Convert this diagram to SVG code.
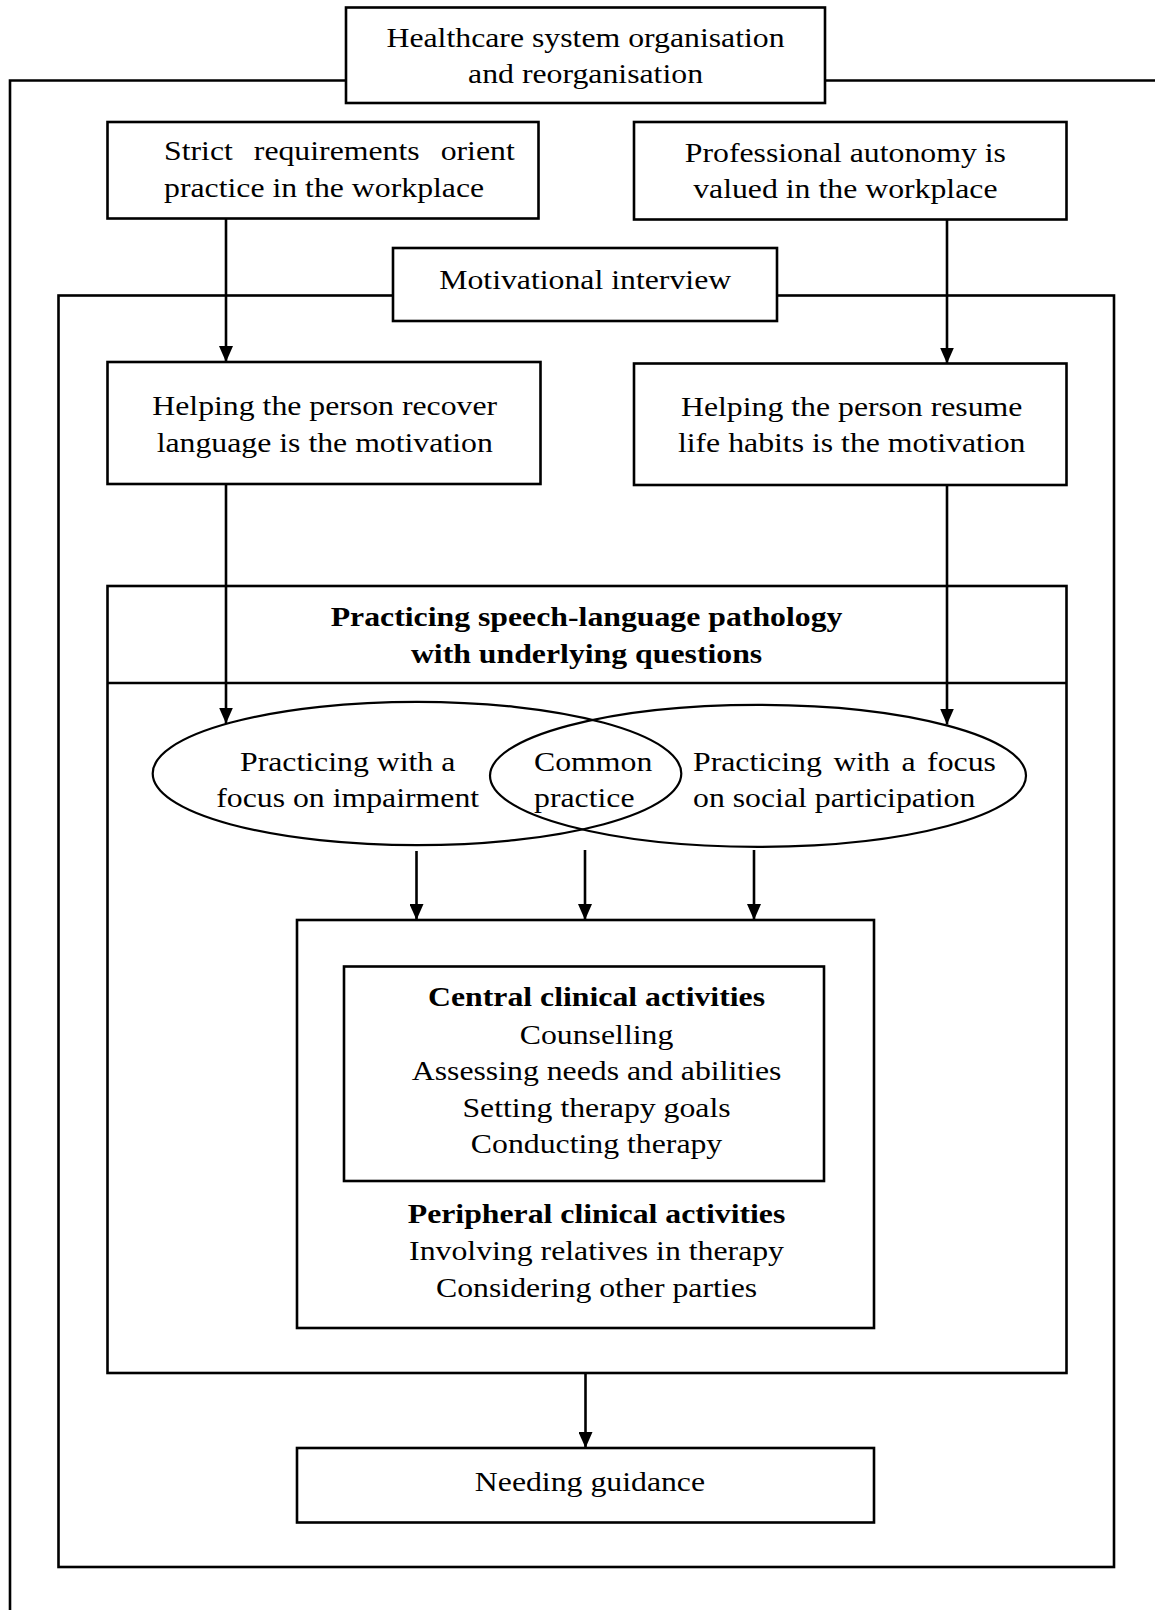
<svg xmlns="http://www.w3.org/2000/svg" width="1155" height="1610" viewBox="0 0 1155 1610">
<style>
.box{fill:#fff;stroke:#000;stroke-width:2.6}
.frame{fill:none;stroke:#000;stroke-width:2.6}
.ell{fill:none;stroke:#000;stroke-width:2.2}
.con{fill:none;stroke:#000;stroke-width:2.6}
text{font-family:"Liberation Serif","Times New Roman",serif;font-size:28px;fill:#000}
.c{text-anchor:middle}
.b{font-weight:bold}
</style>
<defs>
<marker id="ah" markerUnits="userSpaceOnUse" markerWidth="16" markerHeight="14" refX="16" refY="7" orient="auto">
<path d="M0,0 L16,7 L0,14 z" fill="#000"/>
</marker>
</defs>
<rect width="1155" height="1610" fill="#fff"/>

<g id="outer-frame">
<polyline class="frame" points="10,1610 10,80.5 1155,80.5"/>
</g>
<g id="motivational-frame">
<rect class="frame" x="58.5" y="295.5" width="1055.5" height="1271.5"/>
</g>

<g id="healthcare">
<rect class="box" x="346" y="7.5" width="479" height="95.5"/>
<text class="c" transform="scale(1.135,1)" x="515.9" y="47">Healthcare system organisation</text>
<text class="c" transform="scale(1.135,1)" x="515.9" y="83">and reorganisation</text>
</g>

<g id="strict">
<rect class="box" x="107.5" y="122" width="431" height="96.5"/>
<text transform="scale(1.135,1)" x="144.5" y="160.5" word-spacing="11.5">Strict requirements orient</text>
<text transform="scale(1.135,1)" x="144.5" y="197">practice in the workplace</text>
</g>

<g id="autonomy">
<rect class="box" x="634" y="122" width="432.5" height="97.5"/>
<text class="c" transform="scale(1.135,1)" x="744.8" y="162">Professional autonomy is</text>
<text class="c" transform="scale(1.135,1)" x="744.8" y="198.5">valued in the workplace</text>
</g>

<g id="motivational">
<rect class="box" x="393" y="248" width="384" height="73"/>
<text class="c" transform="scale(1.135,1)" x="515.6" y="289.5">Motivational interview</text>
</g>

<g id="recover">
<rect class="box" x="107.5" y="362" width="433" height="122"/>
<text class="c" transform="scale(1.135,1)" x="286.1" y="415.5">Helping the person recover</text>
<text class="c" transform="scale(1.135,1)" x="286.1" y="452">language is the motivation</text>
</g>

<g id="resume">
<rect class="box" x="634" y="363.5" width="432.5" height="121.5"/>
<text class="c" transform="scale(1.135,1)" x="750.4" y="416">Helping the person resume</text>
<text class="c" transform="scale(1.135,1)" x="750.4" y="452.5">life habits is the motivation</text>
</g>

<g id="slp">
<rect class="box" x="107.5" y="586" width="959" height="787"/>
<line class="frame" x1="107.5" y1="683" x2="1066.5" y2="683"/>
<text class="c b" transform="scale(1.135,1)" x="516.8" y="626">Practicing speech-language pathology</text>
<text class="c b" transform="scale(1.135,1)" x="516.8" y="663">with underlying questions</text>
</g>

<g id="impairment">
<ellipse class="ell" cx="417" cy="773.5" rx="264.3" ry="71.7"/>
<text class="c" transform="scale(1.135,1)" x="306.3" y="771">Practicing with a</text>
<text class="c" transform="scale(1.135,1)" x="306.3" y="807.5">focus on impairment</text>
</g>

<g id="participation">
<ellipse class="ell" cx="758" cy="775.8" rx="268" ry="71"/>
<text transform="scale(1.135,1)" x="610.6" y="771" word-spacing="3.2">Practicing with a focus</text>
<text transform="scale(1.135,1)" x="610.6" y="807.5">on social participation</text>
</g>

<g id="common">
<text transform="scale(1.135,1)" x="470.5" y="771">Common</text>
<text transform="scale(1.135,1)" x="470.5" y="807.5">practice</text>
</g>

<g id="activities">
<rect class="box" x="297" y="920" width="577" height="408"/>
<text class="c b" transform="scale(1.135,1)" x="525.6" y="1223">Peripheral clinical activities</text>
<text class="c" transform="scale(1.135,1)" x="525.6" y="1260">Involving relatives in therapy</text>
<text class="c" transform="scale(1.135,1)" x="525.6" y="1297.5">Considering other parties</text>
</g>

<g id="central">
<rect class="box" x="344" y="966.5" width="480" height="214.5"/>
<text class="c b" transform="scale(1.135,1)" x="525.6" y="1006">Central clinical activities</text>
<text class="c" transform="scale(1.135,1)" x="525.6" y="1044">Counselling</text>
<text class="c" transform="scale(1.135,1)" x="525.6" y="1080">Assessing needs and abilities</text>
<text class="c" transform="scale(1.135,1)" x="525.6" y="1116.7">Setting therapy goals</text>
<text class="c" transform="scale(1.135,1)" x="525.6" y="1153.3">Conducting therapy</text>
</g>

<g id="guidance">
<rect class="box" x="297" y="1448" width="577" height="74.5"/>
<text class="c" transform="scale(1.135,1)" x="519.8" y="1491.5">Needing guidance</text>
</g>

<g id="connectors">
<line class="con" x1="226" y1="219" x2="226" y2="362" marker-end="url(#ah)"/>
<line class="con" x1="947" y1="220" x2="947" y2="363.5" marker-end="url(#ah)"/>
<line class="con" x1="226" y1="484" x2="226" y2="723.5" marker-end="url(#ah)"/>
<line class="con" x1="947" y1="485" x2="947" y2="724.5" marker-end="url(#ah)"/>
<line class="con" x1="416.5" y1="851" x2="416.5" y2="920" marker-end="url(#ah)"/>
<line class="con" x1="585" y1="850" x2="585" y2="920" marker-end="url(#ah)"/>
<line class="con" x1="754" y1="850" x2="754" y2="920" marker-end="url(#ah)"/>
<line class="con" x1="585.5" y1="1373" x2="585.5" y2="1448" marker-end="url(#ah)"/>
</g>
</svg>
